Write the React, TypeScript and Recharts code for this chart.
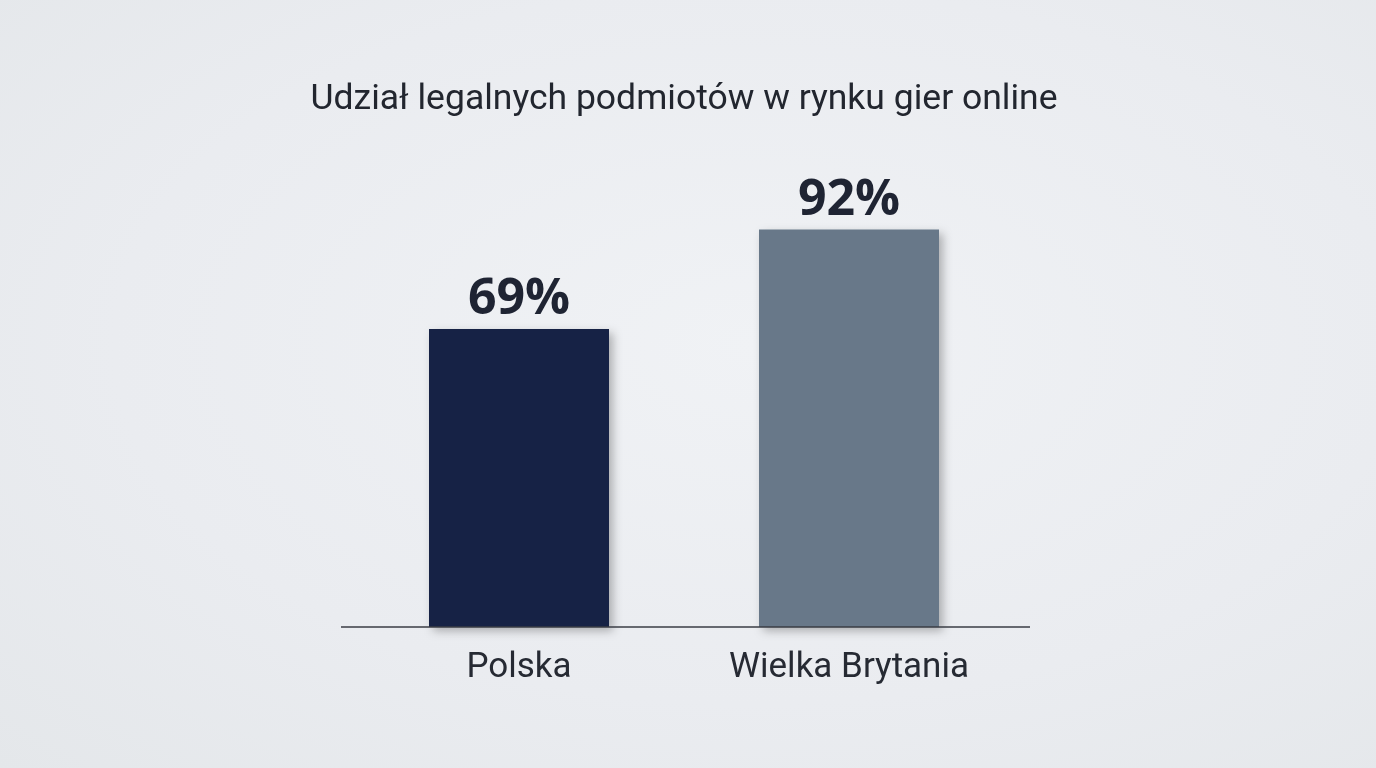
import { BarChart, Bar, XAxis, YAxis, LabelList, Cell } from 'recharts'

const countries = ['Polska', 'Wielka Brytania']
const legalShare = [69, 92]
const barColors = ['#172345', '#677889']

const data = countries.map((country, i) => ({ country, share: legalShare[i] }))

const CountryTick = (props: any) => {
  const { x, y, payload } = props
  return (
    <text
      x={x}
      y={y + 42}
      textAnchor="middle"
      fill="#262a33"
      fontSize={35}
      fontFamily="Roboto, sans-serif"
    >
      {payload.value}
    </text>
  )
}

export default function App() {
  return (
    <div
      style={{
        position: 'fixed',
        left: 0,
        top: 0,
        width: 1376,
        height: 768,
        background: 'radial-gradient(ellipse at 55% 45%, #f0f2f5 0%, #eaecf0 60%, #e4e7ea 100%)',
        fontFamily: 'Roboto, sans-serif',
      }}
    >
      <div
        style={{
          position: 'absolute',
          top: 76,
          left: 0,
          width: 1368,
          textAlign: 'center',
          fontSize: 35.5,
          color: '#22262f',
        }}
      >
        Udział legalnych podmiotów w rynku gier online
      </div>
      <BarChart
        width={1376}
        height={768}
        data={data}
        margin={{ top: 195, right: 346, bottom: 81, left: 341 }}
        style={{ position: 'absolute', left: 0, top: 0 }}
      >
        <defs>
          <filter id="barShadow" x="-20%" y="-20%" width="150%" height="140%">
            <feDropShadow dx="4" dy="4" stdDeviation="5" floodColor="#000" floodOpacity="0.28" />
          </filter>
        </defs>
        <XAxis
          dataKey="country"
          height={60}
          padding={{ left: 13, right: 16 }}
          axisLine={{ stroke: '#3a3d45', strokeWidth: 1.3 }}
          tickLine={false}
          tick={<CountryTick />}
          interval={0}
        />
        <YAxis hide domain={[0, 100]} />
        <Bar dataKey="share" barSize={180} isAnimationActive={false} filter="url(#barShadow)">
          {data.map((d, i) => (
            <Cell key={d.country} fill={barColors[i]} />
          ))}
          <LabelList
            dataKey="share"
            position="top"
            offset={15}
            formatter={(v: any) => `${v}%`}
            fill="#1f2433"
            fontSize={50}
            fontWeight={700}
            fontFamily="'Open Sans', sans-serif"
          />
        </Bar>
      </BarChart>
    </div>
  )
}
